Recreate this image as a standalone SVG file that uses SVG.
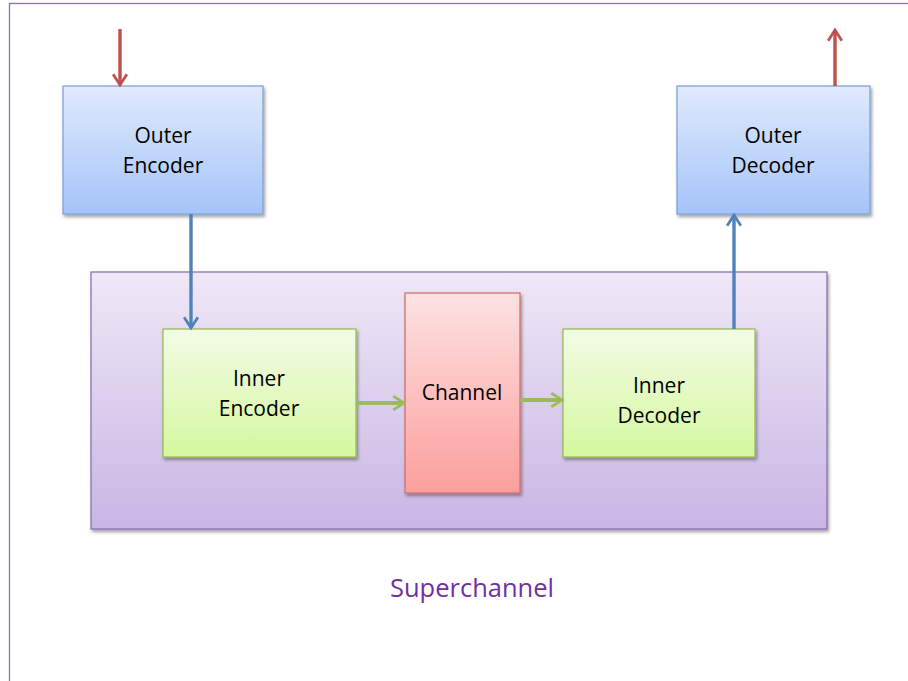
<svg xmlns="http://www.w3.org/2000/svg" width="908" height="681" viewBox="0 0 908 681">
<defs>
<linearGradient id="gBlue" x1="0" y1="0" x2="0" y2="1"><stop offset="0" stop-color="#e0eafc"/><stop offset="1" stop-color="#a5c4fa"/></linearGradient>
<linearGradient id="gGreen" x1="0" y1="0" x2="0" y2="1"><stop offset="0" stop-color="#f3fbe6"/><stop offset="1" stop-color="#d4f89e"/></linearGradient>
<linearGradient id="gRed" x1="0" y1="0" x2="0" y2="1"><stop offset="0" stop-color="#fde2e2"/><stop offset="1" stop-color="#fb9f9d"/></linearGradient>
<linearGradient id="gPurple" x1="0" y1="0" x2="0" y2="1"><stop offset="0" stop-color="#efe8f7"/><stop offset="1" stop-color="#c8b6e4"/></linearGradient>
<filter id="sh" x="-10%" y="-10%" width="130%" height="130%"><feDropShadow dx="1.5" dy="2.5" stdDeviation="1.5" flood-color="#000" flood-opacity="0.35"/></filter>
<marker id="mRed" viewBox="0 0 12 12" refX="10" refY="6" markerWidth="5.4" markerHeight="5.4" markerUnits="strokeWidth" orient="auto"><path d="M3,1.5 L10,6 L3,10.5" fill="none" stroke="#c0504d" stroke-width="1.8"/></marker>
<marker id="mBlue" viewBox="0 0 12 12" refX="10" refY="6" markerWidth="5.4" markerHeight="5.4" markerUnits="strokeWidth" orient="auto"><path d="M3,1.5 L10,6 L3,10.5" fill="none" stroke="#4f81bd" stroke-width="1.8"/></marker>
<marker id="mGreen" viewBox="0 0 12 12" refX="10" refY="6" markerWidth="4.6" markerHeight="4.6" markerUnits="strokeWidth" orient="auto"><path d="M3,1.5 L10,6 L3,10.5" fill="none" stroke="#9bbb59" stroke-width="1.8"/></marker>
</defs>
<style>
.lbl{font-family:"Open Sans","Liberation Sans",sans-serif;font-size:21px;fill:#000;text-anchor:middle}
.sup{font-family:"Open Sans","Liberation Sans",sans-serif;font-size:25.5px;fill:#7030a0;text-anchor:middle}
.blue{fill:url(#gBlue);stroke:#7fa3d8;stroke-width:1.3}
.green{fill:url(#gGreen);stroke:#9bbb59;stroke-width:1.3}
.red{fill:url(#gRed);stroke:#d0706d;stroke-width:1.3}
.purple{fill:url(#gPurple);stroke:#8a72b0;stroke-width:1.3}
</style>
<rect x="0" y="0" width="908" height="681" fill="#fff"/>
<rect id="frame" x="9.5" y="3.5" width="910" height="700" fill="none" stroke="#8a72b0" stroke-width="1.3"/>
<g id="superchannel">
<rect class="purple" x="91" y="272" width="736" height="257" filter="url(#sh)"/>
<text class="sup" x="472" y="597">Superchannel</text>
</g>
<g id="outer-encoder">
<rect class="blue" x="63" y="86" width="200" height="128" filter="url(#sh)"/>
<text class="lbl" x="163" y="143">Outer</text>
<text class="lbl" x="163" y="173">Encoder</text>
</g>
<g id="outer-decoder">
<rect class="blue" x="677" y="86" width="193" height="128" filter="url(#sh)"/>
<text class="lbl" x="773" y="143">Outer</text>
<text class="lbl" x="773" y="173">Decoder</text>
</g>
<g id="inner-encoder">
<rect class="green" x="163" y="329" width="193" height="128" filter="url(#sh)"/>
<text class="lbl" x="259" y="386">Inner</text>
<text class="lbl" x="259" y="416">Encoder</text>
</g>
<g id="channel">
<rect class="red" x="405" y="293" width="115" height="200" filter="url(#sh)"/>
<text class="lbl" x="462" y="400">Channel</text>
</g>
<g id="inner-decoder">
<rect class="green" x="563" y="329" width="192" height="128" filter="url(#sh)"/>
<text class="lbl" x="659" y="393">Inner</text>
<text class="lbl" x="659" y="423">Decoder</text>
</g>
<g id="connectors" fill="none" stroke-width="3.4">
<line x1="120" y1="29" x2="120" y2="85" stroke="#c0504d" marker-end="url(#mRed)"/>
<line x1="835" y1="86" x2="835" y2="30" stroke="#c0504d" marker-end="url(#mRed)"/>
<line x1="191" y1="214" x2="191" y2="328" stroke="#4f81bd" marker-end="url(#mBlue)"/>
<line x1="734" y1="329" x2="734" y2="215" stroke="#4f81bd" marker-end="url(#mBlue)"/>
<line x1="356" y1="403" x2="404" y2="403" stroke="#9bbb59" stroke-width="4" marker-end="url(#mGreen)"/>
<line x1="520" y1="400" x2="562" y2="400" stroke="#9bbb59" stroke-width="4" marker-end="url(#mGreen)"/>
</g>
</svg>
